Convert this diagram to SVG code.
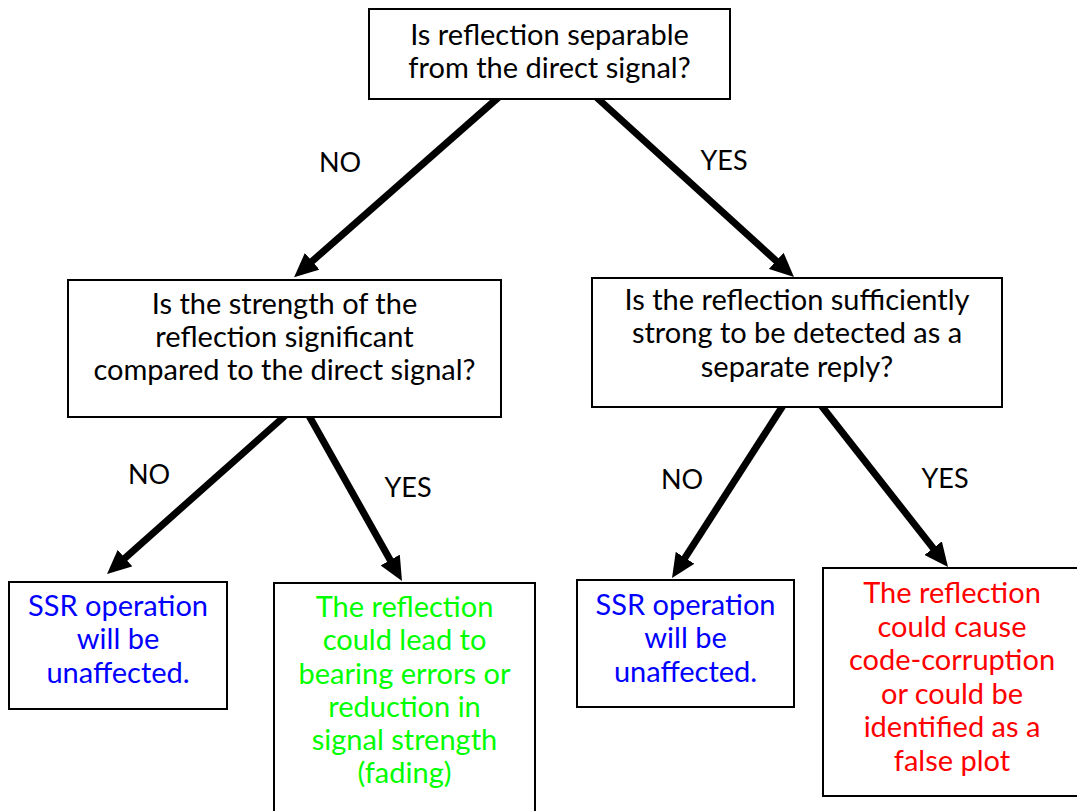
<svg xmlns="http://www.w3.org/2000/svg" width="1077" height="811" viewBox="0 0 1077 811">
<style>
.box{fill:#fff;stroke:#000;stroke-width:2}
.t{font-family:Lato,"Open Sans",sans-serif;font-size:29px;text-anchor:middle;fill:#000}
.lbl{font-family:Lato,"Open Sans",sans-serif;font-size:27px;text-anchor:middle;fill:#000}
.blue{fill:#0000ff}
.green{fill:#00ff00}
.red{fill:#ff0000}
.arr{stroke:#000;stroke-width:7;fill:none;marker-end:url(#ah)}
</style>
<defs>
<marker id="ah" viewBox="0 0 24 22" refX="12" refY="11" markerWidth="24" markerHeight="22" markerUnits="userSpaceOnUse" orient="auto">
<path d="M0,0 L24,11 L0,22 z" fill="#000"/>
</marker>
</defs>
<g id="connectors">
<line class="arr" x1="500" y1="96" x2="303.1" y2="269.2"/>
<line class="arr" x1="595" y1="96" x2="785.1" y2="269"/>
<line class="arr" x1="287" y1="414" x2="116" y2="566.1"/>
<line class="arr" x1="308" y1="414" x2="396.1" y2="570.5"/>
<line class="arr" x1="784" y1="404" x2="678.5" y2="567.9"/>
<line class="arr" x1="820" y1="404" x2="940.6" y2="557.6"/>
<text class="lbl" x="340" y="172">NO</text>
<text class="lbl" x="724" y="170">YES</text>
<text class="lbl" x="149" y="484">NO</text>
<text class="lbl" x="408" y="497">YES</text>
<text class="lbl" x="682" y="489">NO</text>
<text class="lbl" x="945" y="488">YES</text>
</g>
<g id="q1">
<rect class="box" x="369" y="9" width="361" height="90"/>
<text class="t" x="549.5" y="45">Is reflection separable</text>
<text class="t" x="549.5" y="78">from the direct signal?</text>
</g>
<g id="q2">
<rect class="box" x="68" y="280" width="433" height="137"/>
<text class="t" x="284.5" y="314">Is the strength of the</text>
<text class="t" x="284.5" y="347">reflection significant</text>
<text class="t" x="284.5" y="380">compared to the direct signal?</text>
</g>
<g id="q3">
<rect class="box" x="592" y="278" width="410" height="129"/>
<text class="t" x="797" y="310">Is the reflection sufficiently</text>
<text class="t" x="797" y="343">strong to be detected as a</text>
<text class="t" x="797" y="377">separate reply?</text>
</g>
<g id="r1">
<rect class="box" x="9" y="582" width="218" height="127"/>
<text class="t blue" x="118" y="616">SSR operation</text>
<text class="t blue" x="118" y="649">will be</text>
<text class="t blue" x="118" y="683">unaffected.</text>
</g>
<g id="r2">
<rect class="box" x="274" y="583" width="261" height="240"/>
<text class="t green" x="404.5" y="617">The reflection</text>
<text class="t green" x="404.5" y="650">could lead to</text>
<text class="t green" x="404.5" y="684">bearing errors or</text>
<text class="t green" x="404.5" y="717">reduction in</text>
<text class="t green" x="404.5" y="750">signal strength</text>
<text class="t green" x="404.5" y="783">(fading)</text>
</g>
<g id="r3">
<rect class="box" x="577" y="580" width="217" height="127"/>
<text class="t blue" x="685.5" y="615">SSR operation</text>
<text class="t blue" x="685.5" y="648">will be</text>
<text class="t blue" x="685.5" y="682">unaffected.</text>
</g>
<g id="r4">
<rect class="box" x="823" y="568" width="258" height="228"/>
<text class="t red" x="952" y="603">The reflection</text>
<text class="t red" x="952" y="637">could cause</text>
<text class="t red" x="952" y="670">code-corruption</text>
<text class="t red" x="952" y="704">or could be</text>
<text class="t red" x="952" y="737">identified as a</text>
<text class="t red" x="952" y="771">false plot</text>
</g>
</svg>
